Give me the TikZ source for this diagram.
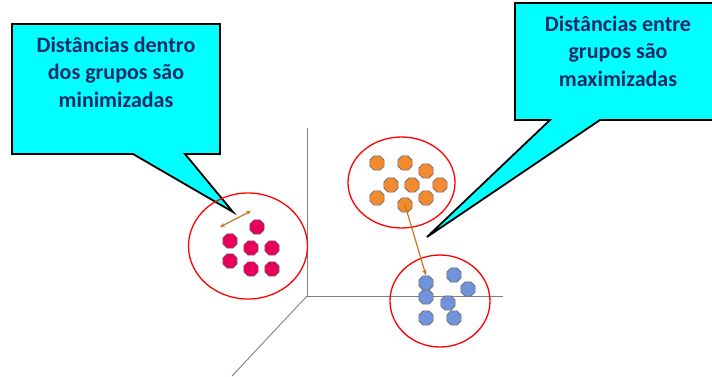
\documentclass[tikz,border=0pt]{standalone}
\usepackage{fontspec}
\setmainfont{Carlito}
\usetikzlibrary{shapes.geometric,arrows.meta}
\definecolor{cyanbox}{HTML}{00FFFF}
\definecolor{navytext}{HTML}{1A2A66}
\definecolor{pinkdot}{HTML}{E8005A}
\definecolor{orangedot}{HTML}{F28A30}
\definecolor{bluedot}{HTML}{7093DB}
\definecolor{arrowbrown}{HTML}{C8761E}
\definecolor{axisgray}{HTML}{808080}
\tikzset{
  dot/.style={regular polygon, regular polygon sides=8, minimum size=15.5pt, inner sep=0pt, draw=black!60, line width=0.6pt},
  pinkpt/.style={dot, fill=pinkdot},
  orangept/.style={dot, fill=orangedot},
  bluept/.style={dot, fill=bluedot},
  groupring/.style={draw=red, line width=1.3pt},
  callout/.style={fill=cyanbox, draw=black, line width=1.8pt, line join=miter},
  callouttext/.style={font=\bfseries\fontsize{22}{27.5}\selectfont, text=navytext, align=center},
  axis/.style={draw=axisgray, line width=0.9pt},
  distarrow/.style={draw=arrowbrown, line width=1.2pt}
}
\begin{document}
\begin{tikzpicture}[x=1pt,y=-1pt]
\useasboundingbox (0,0) rectangle (712,376);
% axes
\coordinate (origin) at (307,296);
\coordinate (ytop) at (307,128);
\coordinate (xend) at (503,296);
\coordinate (zend) at (232,376);
\draw[axis] (ytop) -- (origin) -- (xend);
\draw[axis] (origin) -- (zend);
% callouts
\draw[callout] (12,24) -- (220,24) -- (220,154) -- (185,154) -- (233,212) -- (133,154) -- (12,154) -- cycle;
\node[callouttext] (lefttext) at (116,72) {Distâncias dentro\\dos grupos são\\minimizadas};
\draw[callout] (515,3) -- (714,3) -- (714,120) -- (600,120) -- (427,237) -- (550,120) -- (515,120) -- cycle;
\node[callouttext] (righttext) at (618,51) {Distâncias entre\\grupos são\\maximizadas};
% rings
\draw[groupring] (248,246) ellipse [x radius=59.5, y radius=53];
\draw[groupring] (401.5,182.5) ellipse [x radius=53.5, y radius=45.5];
\draw[groupring] (440,301) ellipse [x radius=50, y radius=46];
% pink group
\node[pinkpt] (p1) at (257,227) {};
\node[pinkpt] (p2) at (230,241) {};
\node[pinkpt] (p3) at (251,248) {};
\node[pinkpt] (p4) at (272,248) {};
\node[pinkpt] (p5) at (230,261) {};
\node[pinkpt] (p6) at (251,269) {};
\node[pinkpt] (p7) at (272,269) {};
\coordinate (wa) at (220,227);
\coordinate (wb) at (251,211);
\draw[distarrow, {Stealth[length=5pt,width=4pt]}-{Stealth[length=5pt,width=4pt]}] (wa) -- (wb);
% orange group
\node[orangept] (o1) at (377,163) {};
\node[orangept] (o2) at (405,163) {};
\node[orangept] (o3) at (426,171) {};
\node[orangept] (o4) at (391,185) {};
\node[orangept] (o5) at (412,185) {};
\node[orangept] (o6) at (440,185) {};
\node[orangept] (o7) at (377,198) {};
\node[orangept] (o8) at (405,205) {};
\node[orangept] (o9) at (426,198) {};
% blue group
\node[bluept] (b1) at (426,283) {};
\node[bluept] (b2) at (454,275) {};
\node[bluept] (b3) at (468,289) {};
\node[bluept] (b4) at (426,297) {};
\node[bluept] (b5) at (448,303) {};
\node[bluept] (b6) at (426,318) {};
\node[bluept] (b7) at (454,318) {};
\draw[distarrow, -{Stealth[length=6pt,width=4.5pt]}] (o8.center) -- (b1.north);
\end{tikzpicture}
\end{document}
